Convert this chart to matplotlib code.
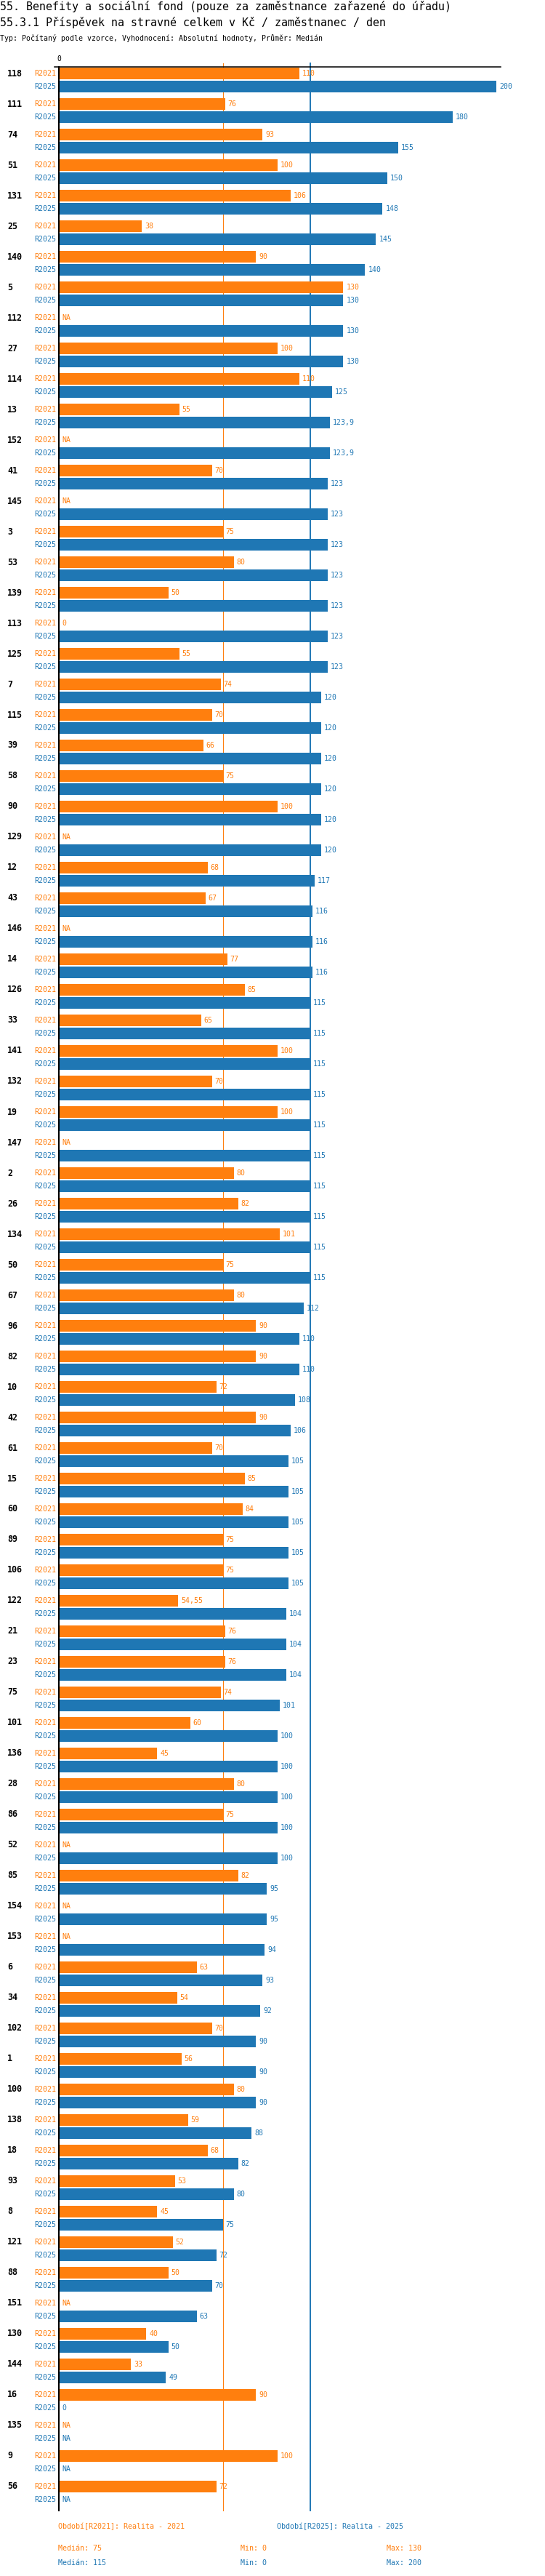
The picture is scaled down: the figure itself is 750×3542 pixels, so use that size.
import matplotlib
matplotlib.use('Agg')
import numpy as np
import matplotlib.pyplot as plt

NA = np.nan

# ---------------- data ----------------
ids = [118, 111, 74, 51, 131, 25, 140, 5, 112, 27, 114, 13, 152, 41, 145, 3, 53, 139, 113, 125,
       7, 115, 39, 58, 90, 129, 12, 43, 146, 14, 126, 33, 141, 132, 19, 147, 2, 26, 134, 50,
       67, 96, 82, 10, 42, 61, 15, 60, 89, 106, 122, 21, 23, 75, 101, 136, 28, 86, 52, 85,
       154, 153, 6, 34, 102, 1, 100, 138, 18, 93, 8, 121, 88, 151, 130, 144, 16, 135, 9, 56]

r2021 = [110, 76, 93, 100, 106, 38, 90, 130, NA, 100, 110, 55, NA, 70, NA, 75, 80, 50, 0, 55,
         74, 70, 66, 75, 100, NA, 68, 67, NA, 77, 85, 65, 100, 70, 100, NA, 80, 82, 101, 75,
         80, 90, 90, 72, 90, 70, 85, 84, 75, 75, 54.55, 76, 76, 74, 60, 45, 80, 75, NA, 82,
         NA, NA, 63, 54, 70, 56, 80, 59, 68, 53, 45, 52, 50, NA, 40, 33, 90, NA, 100, 72]

r2025 = [200, 180, 155, 150, 148, 145, 140, 130, 130, 130, 125, 123.9, 123.9, 123, 123, 123, 123, 123, 123, 123,
         120, 120, 120, 120, 120, 120, 117, 116, 116, 116, 115, 115, 115, 115, 115, 115, 115, 115, 115, 115,
         112, 110, 110, 108, 106, 105, 105, 105, 105, 105, 104, 104, 104, 101, 100, 100, 100, 100, 100, 95,
         95, 94, 93, 92, 90, 90, 90, 88, 82, 80, 75, 72, 70, 63, 50, 49, 0, NA, NA, NA]

series_names = ["R2021", "R2025"]
medians = [75, 115]
mins = [0, 0]
maxs = [130, 200]
legend_texts = ["Období[R2021]: Realita - 2021", "Období[R2025]: Realita - 2025"]

title1 = "55. Benefity a sociální fond (pouze za zaměstnance zařazené do úřadu)"
title2 = "55.3.1 Příspěvek na stravné celkem v Kč / zaměstnanec / den"
subtitle = "Typ: Počítaný podle vzorce, Vyhodnocení: Absolutní hodnoty, Průměr: Medián"

# ---------------- layout ----------------
ORANGE = "#ff7f0e"
BLUE = "#1f77b4"
colors = [ORANGE, BLUE]
MONO = "DejaVu Sans Mono"

W, H = 750, 3542
X0 = 81.0      # pixel position of value 0
PXU = 3.01     # pixels per unit
Y_FIRST = 101  # centre of first bar
PITCH = 42     # group pitch
SUB = 18       # offset of second bar within group
BAR_H = 16
Y_AXIS = 92
Y_END = 3452

fig = plt.figure(figsize=(W / 100, H / 100), dpi=100)
ax = fig.add_axes([0, 0, 1, 1])
ax.set_xlim(-X0 / PXU, (W - X0) / PXU)
ax.set_ylim(H, 0)
ax.axis('off')


def px(xp):
    return (xp - X0) / PXU


def fmt(v):
    if np.isnan(v):
        return "NA"
    if float(v).is_integer():
        return str(int(v))
    return ("%g" % v).replace(".", ",")


# headers
fig.text(0, 1 - 9 / H, title1, fontsize=10.8, family=MONO, va='center', ha='left')
fig.text(0, 1 - 31 / H, title2, fontsize=10.8, family=MONO, va='center', ha='left')
fig.text(0, 1 - 52 / H, subtitle, fontsize=7.1, family=MONO, va='center', ha='left')

# tick label 0
ax.text(0, 81, "0", fontsize=7, family=MONO, ha='center', va='center')

# median lines
for m, c, lw in zip(medians, colors, [0.75, 1.4]):
    ax.plot([m, m], [87, Y_END], color=c, lw=lw, zorder=1)

# axes lines
ax.plot([px(75), px(689)], [Y_AXIS, Y_AXIS], color="black", lw=1.1, zorder=4)
ax.plot([0, 0], [Y_AXIS, Y_END], color="black", lw=1.5, zorder=4)

n = len(ids)
ys = np.array([Y_FIRST + i * PITCH for i in range(n)])

for s, (vals, c, name) in enumerate(zip([r2021, r2025], colors, series_names)):
    v = np.array(vals, dtype=float)
    y = ys + s * SUB
    mask = ~np.isnan(v)
    ax.barh(y[mask], v[mask], height=BAR_H, left=0, color=c, zorder=2)
    for yy, vv in zip(y, v):
        ax.text(px(77), yy, name, fontsize=7.2, family=MONO, color=c, ha='right', va='center')
        xv = 0 if np.isnan(vv) else vv
        ax.text(xv + 4 / PXU, yy, fmt(vv), fontsize=7.1, family=MONO, color=c,
                ha='left', va='center')

for yy, gid in zip(ys, ids):
    ax.text(px(10), yy, str(gid), fontsize=8.4, family=MONO, fontweight='bold',
            color='black', ha='left', va='center')

# footer
ax.text(px(80), 3474, legend_texts[0], fontsize=7.2, family=MONO, color=ORANGE, ha='left', va='center')
ax.text(px(381), 3474, legend_texts[1], fontsize=7.2, family=MONO, color=BLUE, ha='left', va='center')
for row, (c, md, mn, mx) in enumerate(zip(colors, medians, mins, maxs)):
    yy = 3504 + row * 20
    ax.text(px(80), yy, "Medián: %s" % md, fontsize=7.2, family=MONO, color=c, ha='left', va='center')
    ax.text(px(331), yy, "Min: %s" % mn, fontsize=7.2, family=MONO, color=c, ha='left', va='center')
    ax.text(px(532), yy, "Max: %s" % mx, fontsize=7.2, family=MONO, color=c, ha='left', va='center')

fig.savefig("out.png", dpi=100)
